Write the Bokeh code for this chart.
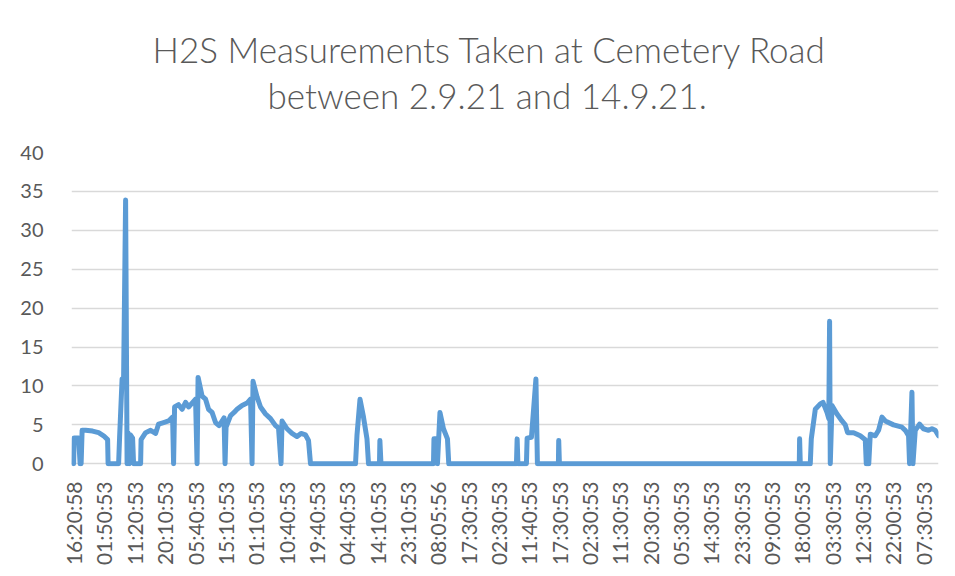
from bokeh.plotting import figure
from bokeh.models import Range1d, FixedTicker, Title
from bokeh.embed import file_html
from bokeh.resources import INLINE
import math

# x positions are in units of category-label intervals (label k sits at k)
t = [0, 0.016, 0.165, 0.214, 0.247, 0.280, 0.395, 0.626, 0.823, 0.988, 1.120, 1.136,
     1.482, 1.515, 1.597, 1.647, 1.713, 1.762, 1.795, 1.828, 1.877, 1.943, 1.976,
     2.207, 2.223, 2.372, 2.536, 2.701, 2.800, 2.964, 3.129, 3.261, 3.294, 3.327,
     3.458, 3.574, 3.689, 3.788, 3.903, 4.018, 4.068, 4.101, 4.233, 4.348, 4.447,
     4.562, 4.677, 4.793, 4.891, 4.957, 4.990, 5.023, 5.171, 5.287, 5.385, 5.550,
     5.715, 5.830, 5.880, 5.912, 6.044, 6.159, 6.324, 6.489, 6.653, 6.752, 6.835,
     6.868, 7.032, 7.197, 7.362, 7.493, 7.642, 7.740, 7.806,
     9.289, 9.338, 9.437, 9.552, 9.667, 9.717,
     10.079, 10.092, 10.128,
     11.858, 11.874, 11.973, 11.989, 12.039, 12.072, 12.187, 12.319, 12.362,
     14.592, 14.615, 14.641, 14.921, 14.944, 15.086, 15.234, 15.283,
     15.975, 15.985, 16.008,
     23.913, 23.923, 23.946,
     24.275, 24.308, 24.440, 24.605, 24.694, 24.825, 24.885, 24.911, 24.934,
     24.990, 25.155, 25.320, 25.428, 25.504, 25.702, 25.814, 25.922, 26.087,
     26.120, 26.202, 26.252, 26.416, 26.525, 26.637, 26.746, 27.019, 27.296,
     27.405, 27.513, 27.546, 27.625, 27.658, 27.734, 27.876, 28.007, 28.172,
     28.284, 28.393, 28.501]

h2s = [0, 3.3, 3.3, 0, 0, 4.3, 4.3, 4.2, 4.0, 3.6, 3.1, 0,
       0, 3.4, 10.9, 11.0, 33.9, 0, 4.0, 0, 3.7, 3.3, 0,
       0, 3.1, 4.0, 4.3, 3.9, 5.1, 5.3, 5.5, 6.0, 0, 7.3,
       7.6, 7.0, 7.9, 7.3, 7.8, 8.3, 0, 11.1, 8.7, 8.3, 7.0,
       6.6, 5.3, 4.9, 5.5, 5.9, 0, 4.7, 6.2, 6.6, 7.0, 7.5,
       7.8, 8.3, 0, 10.6, 8.6, 7.3, 6.4, 5.8, 4.9, 4.6, 0,
       5.5, 4.5, 3.9, 3.5, 3.9, 3.7, 3.0, 0,
       0, 3.7, 8.3, 6.0, 3.2, 0,
       0, 3.0, 0,
       0, 3.2, 3.2, 0, 4.0, 6.6, 4.5, 3.2, 0,
       0, 3.2, 0, 0, 3.3, 3.4, 10.9, 0,
       0, 3.0, 0,
       0, 3.2, 0,
       0, 3.2, 7.0, 7.7, 7.9, 6.6, 5.8, 18.3, 0,
       7.5, 6.4, 5.5, 5.0, 4.0, 4.0, 3.8, 3.6, 3.1,
       0, 0, 3.8, 3.6, 4.3, 6.0, 5.5, 5.0, 4.7,
       4.3, 3.6, 0, 9.2, 0, 4.3, 5.1, 4.5, 4.3,
       4.5, 4.3, 3.6]

x_labels = ["16:20:58", "01:50:53", "11:20:53", "20:10:53", "05:40:53", "15:10:53",
            "01:10:53", "10:40:53", "19:40:53", "04:40:53", "14:10:53", "23:10:53",
            "08:05:56", "17:30:53", "02:30:53", "11:40:53", "17:30:53", "02:30:53",
            "11:30:53", "20:30:53", "05:30:53", "14:30:53", "23:30:53", "09:00:53",
            "18:00:53", "03:30:53", "12:30:53", "22:00:53", "07:30:53"]

y_ticks = [0, 5, 10, 15, 20, 25, 30, 35, 40]

title_lines = ["H2S Measurements Taken at Cemetery Road", "between 2.9.21 and 14.9.21."]

FONT = "Lato"
TITLE_FONT = "Lato Light, Lato"
GREY = "#595959"

p = figure(width=947, height=568, output_backend="svg", toolbar_location=None,
           x_range=Range1d(-0.07, 28.5), y_range=Range1d(-0.35, 40),
           min_border_left=71, min_border_right=9, min_border_top=152,
           min_border_bottom=100)

# second line first: the first Title added sits closest to the plot
p.add_layout(Title(text=title_lines[1], align="left", text_font=TITLE_FONT,
                   text_font_style="normal", text_font_size="35px",
                   text_color=GREY, standoff=74, offset=196), "above")
p.add_layout(Title(text=title_lines[0], align="left", text_font=TITLE_FONT,
                   text_font_style="normal", text_font_size="35px",
                   text_color=GREY, standoff=-70, offset=81), "above")

p.outline_line_color = None
p.background_fill_color = "white"
p.border_fill_color = "white"

p.xgrid.grid_line_color = None
p.ygrid.grid_line_color = "#d9d9d9"
p.ygrid.grid_line_width = 1.5
p.ygrid.ticker = FixedTicker(ticks=y_ticks)

p.yaxis.ticker = FixedTicker(ticks=y_ticks)
p.yaxis.axis_line_color = None
p.yaxis.major_tick_line_color = None
p.yaxis.minor_tick_line_color = None
p.yaxis.major_label_text_font = FONT
p.yaxis.major_label_text_font_size = "20px"
p.yaxis.major_label_text_color = GREY
p.yaxis.major_label_standoff = 22

p.xaxis.ticker = FixedTicker(ticks=list(range(len(x_labels))))
p.xaxis.major_label_overrides = {i: s for i, s in enumerate(x_labels)}
p.xaxis.major_label_orientation = math.pi / 2
p.xaxis.axis_line_color = None
p.xaxis.major_tick_line_color = None
p.xaxis.minor_tick_line_color = None
p.xaxis.major_label_text_font = FONT
p.xaxis.major_label_text_font_size = "21px"
p.xaxis.major_label_text_color = GREY
p.xaxis.major_label_standoff = 9

p.line(t, h2s, line_color="#5B9BD5", line_width=5, line_join="round", line_cap="round")

open("out.html", "w").write(file_html(p, INLINE))
